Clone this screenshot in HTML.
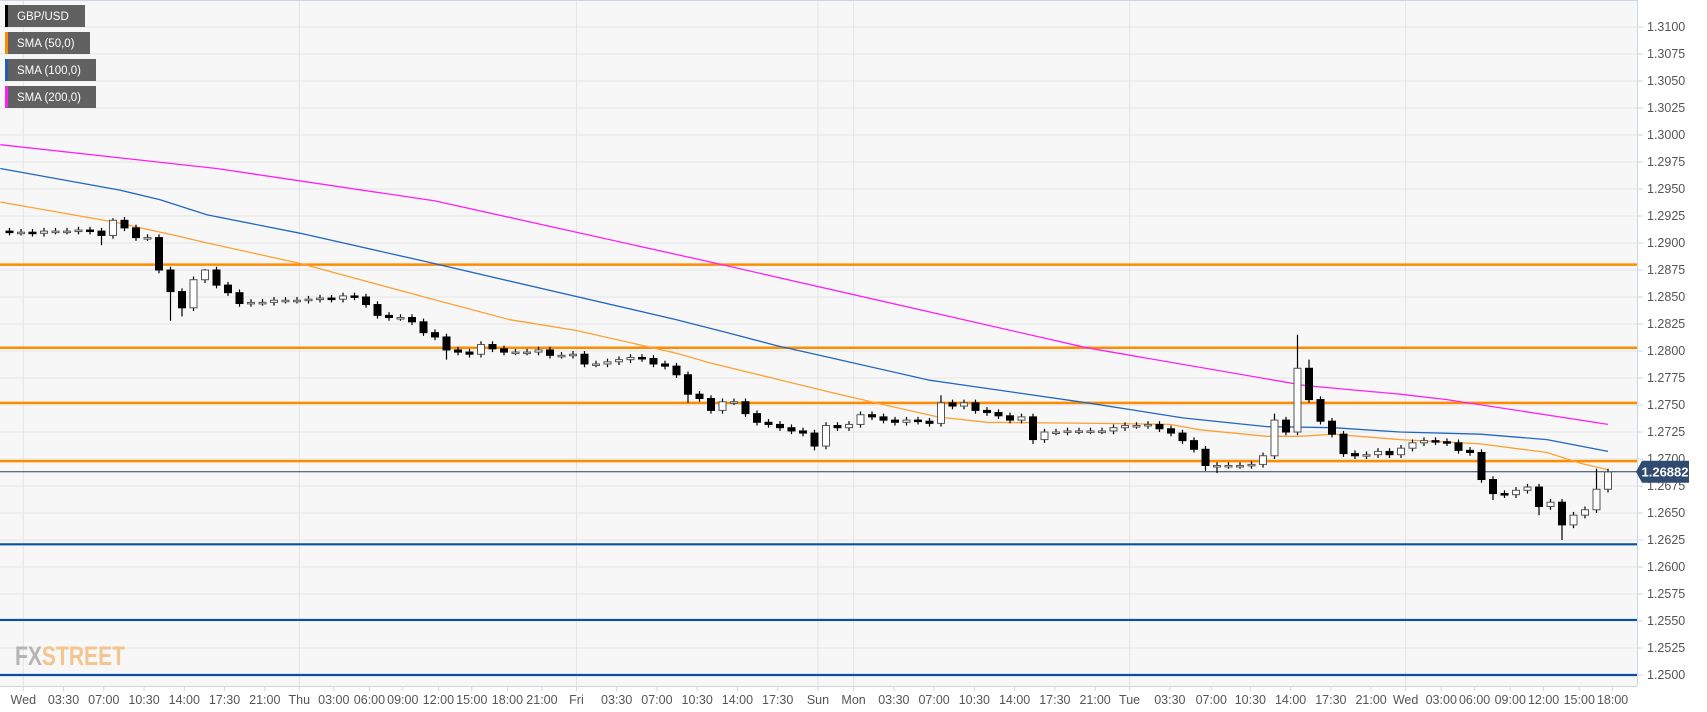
<!DOCTYPE html>
<html><head><meta charset="utf-8"><style>
body{margin:0;background:#fff;font-family:"Liberation Sans",sans-serif}
svg{display:block}
</style></head><body>
<svg id="c" width="1707" height="712" xmlns="http://www.w3.org/2000/svg">
<rect x="0" y="0" width="1637" height="686" fill="#f7f7f7"/>
<g id="grid"></g>
<g id="levels"></g>
<g id="smas"></g>
<g id="candles"></g>
<g id="axes"></g>
<text x="15" y="665" font-size="27" font-weight="bold" textLength="110" lengthAdjust="spacingAndGlyphs" font-family="Liberation Sans Narrow,Liberation Sans,sans-serif"><tspan fill="#b5b5b5">FX</tspan><tspan fill="#f5c48f">STREET</tspan></text>
<g id="legend"></g>
</svg>
<script>
const yTickLabels=["1.3100","1.3075","1.3050","1.3025","1.3000","1.2975","1.2950","1.2925","1.2900","1.2875","1.2850","1.2825","1.2800","1.2775","1.2750","1.2725","1.2700","1.2675","1.2650","1.2625","1.2600","1.2575","1.2550","1.2525","1.2500"];
const xTickLabels=["Wed","03:30","07:00","10:30","14:00","17:30","21:00","Thu","03:00","06:00","09:00","12:00","15:00","18:00","21:00","Fri","03:30","07:00","10:30","14:00","17:30","Sun","Mon","03:30","07:00","10:30","14:00","17:30","21:00","Tue","03:30","07:00","10:30","14:00","17:30","21:00","Wed","03:00","06:00","09:00","12:00","15:00","18:00"];
const xTickIdx=[1.2,4.7,8.2,11.7,15.2,18.7,22.2,25.2,28.2,31.3,34.2,37.3,40.2,43.3,46.3,49.3,52.8,56.3,59.8,63.3,66.8,70.3,73.4,76.9,80.4,83.9,87.4,90.9,94.4,97.4,100.9,104.5,107.9,111.4,114.9,118.4,121.4,124.5,127.4,130.5,133.4,136.5,139.4];
const dayIdx=[1.2,25.2,49.3,70.3,73.4,97.4,121.4];
const closes=[1.2910,1.2910,1.2909,1.2911,1.2911,1.2911,1.2912,1.2911,1.2907,1.2921,1.2914,1.2905,1.2905,1.2875,1.2855,1.2840,1.2866,1.2875,1.2861,1.2854,1.2844,1.2845,1.2845,1.2847,1.2847,1.2847,1.2848,1.2849,1.2848,1.2851,1.2850,1.2843,1.2833,1.2831,1.2831,1.2827,1.2817,1.2813,1.2801,1.2799,1.2797,1.2806,1.2802,1.2799,1.2799,1.2799,1.2801,1.2796,1.2796,1.2797,1.2788,1.2788,1.2790,1.2792,1.2794,1.2793,1.2788,1.2786,1.2778,1.2760,1.2756,1.2745,1.2753,1.2753,1.2742,1.2734,1.2732,1.2729,1.2726,1.2724,1.2712,1.2731,1.2729,1.2732,1.2741,1.2739,1.2736,1.2734,1.2736,1.2735,1.2733,1.2752,1.2749,1.2752,1.2745,1.2743,1.2740,1.2736,1.2739,1.2718,1.2725,1.2725,1.2726,1.2726,1.2726,1.2726,1.2729,1.2731,1.2731,1.2732,1.2728,1.2724,1.2717,1.2709,1.2694,1.2694,1.2694,1.2694,1.2695,1.2703,1.2736,1.2725,1.2784,1.2755,1.2735,1.2723,1.2705,1.2703,1.2704,1.2707,1.2704,1.2710,1.2715,1.2717,1.2716,1.2715,1.2708,1.2706,1.2681,1.2668,1.2667,1.2671,1.2674,1.2656,1.2660,1.2639,1.2648,1.2653,1.2672,1.2688];
const firstOpen=1.2911;
const wickDefault=0.0003;
const highOverride={9:1.2923,16:1.2869,17:1.2876,70:1.2727,81:1.2759,110:1.2742,112:1.2815,113:1.2792,138:1.2691,139:1.2691};
const lowOverride={8:1.2898,14:1.2828,15:1.2832,38:1.2792,59:1.2752,70:1.2708,89:1.2714,104:1.2689,105:1.2687,129:1.2662,135:1.2625,133:1.2648};
const sma50Idx=[-0.8,9.3,14.8,17.2,25.3,35.7,43.5,49.3,58,60.9,71.3,75.3,80.7,85,94.8,100.9,103.5,109.3,112.2,115.1,120.9,127.9,133.7,136.6,139];
const sma50Val=[1.2938,1.2919,1.2906,1.2900,1.2881,1.2851,1.2829,1.2819,1.2798,1.2789,1.2762,1.2752,1.2739,1.2734,1.2733,1.2732,1.2727,1.2721,1.2721,1.2723,1.2718,1.2714,1.2706,1.2696,1.2690];
const sma100Idx=[-0.8,9.6,13.1,17.2,25.3,35.7,58,62.4,66.7,71.3,80,93.7,102.1,109.3,115.1,120.9,127.9,133.7,139];
const sma100Val=[1.2969,1.2949,1.2940,1.2926,1.2909,1.2884,1.2829,1.2817,1.2805,1.2794,1.2773,1.2752,1.2738,1.2730,1.2729,1.2725,1.2723,1.2718,1.2707];
const sma200Idx=[-0.8,18,37,60.7,93.7,112.7,120.9,125,139];
const sma200Val=[1.2991,1.2969,1.2939,1.2883,1.2803,1.2768,1.2760,1.2755,1.2732];
const resistanceLevels=[1.2880,1.2803,1.2752,1.2698];
const supportLevels=[1.2621,1.2551,1.2500];
const lastPrice=1.26882;
const legendLabels=["GBP/USD","SMA (50,0)","SMA (100,0)","SMA (200,0)"];
const legendColors=["#000000","#ff8c00","#1f5fb4","#ff1ff4"];

const NS="http://www.w3.org/2000/svg";
const PW=1637;
function yS(p){return 27+(1.3100-p)*10800;}
function xS(i){return 9.5+11.5*i;}
function mk(tag,attrs,parent){const e=document.createElementNS(NS,tag);for(const k in attrs)e.setAttribute(k,attrs[k]);document.getElementById(parent).appendChild(e);return e;}

yTickLabels.forEach((t)=>{const y=yS(parseFloat(t));
 const l=mk('line',{x1:0,x2:PW,y1:y,y2:y,stroke:'#e4e4e4','stroke-width':1},'grid');
 
 
 const tk=mk('line',{x1:PW,x2:PW+6,y1:y,y2:y,stroke:'#ccd6eb'},'axes');
 
 
 const tx=mk('text',{x:PW+10,y:y+4,'font-size':12.5,fill:'#555'},'axes');tx.textContent=t;
 
 
});
dayIdx.forEach(i=>{const x=xS(i);
 const l=mk('line',{x1:x,x2:x,y1:0,y2:686,stroke:'#e4e4e4'},'grid');
 
 
});
xTickLabels.forEach((t,k)=>{const x=xS(xTickIdx[k]);
 const tk=mk('line',{x1:x,x2:x,y1:686,y2:691,stroke:'#ccd6eb'},'axes');
 
 
 const tx=mk('text',{x:x,y:704,'font-size':12.5,fill:'#555','text-anchor':'middle'},'axes');tx.textContent=t;
 
 
});
const ax=mk('line',{x1:PW+0.5,x2:PW+0.5,y1:0,y2:686,stroke:'#ccd6eb'},'axes');


const bx=mk('line',{x1:0,x2:PW,y1:686.5,y2:686.5,stroke:'#ccd6eb'},'axes');


const tb=mk('line',{x1:0,x2:PW,y1:0.5,y2:0.5,stroke:'#ccd6eb'},'axes');



resistanceLevels.forEach(p=>{const y=yS(p);
 const l=mk('line',{x1:0,x2:PW,y1:y,y2:y,stroke:'#ff8c00','stroke-width':2.5},'levels');
 
 
});
supportLevels.forEach(p=>{const y=yS(p);
 const l=mk('line',{x1:0,x2:PW,y1:y,y2:y,stroke:'#0b4ea2','stroke-width':2.2},'levels');
 
 
});
{const y=yS(lastPrice);
 const l=mk('line',{x1:0,x2:PW,y1:y,y2:y,stroke:'#2b3f5e','stroke-width':1},'levels');
 
 
 const tag=mk('path',{d:`M${PW-1} ${y} L${PW+5} ${y-11} H${PW+52} V${y+11} H${PW+5} Z`,fill:'#2f4b70'},'axes');
 
 
 const tx=mk('text',{x:PW+28,y:y+5,'font-size':13,'font-weight':'bold',fill:'#fff','text-anchor':'middle'},'axes');tx.textContent=lastPrice.toFixed(5);
 
 
}

function smaPath(idx,val,color,name){let d='';idx.forEach((i,k)=>{d+=(k?'L':'M')+xS(i).toFixed(1)+' '+yS(val[k]).toFixed(1);});
 const p=mk('path',{d:d,fill:'none',stroke:color,'stroke-width':1.3},'smas');
 
 }
smaPath(sma200Idx,sma200Val,'#ff1ff4','sma-200-line');
smaPath(sma100Idx,sma100Val,'#2166c0','sma-100-line');
smaPath(sma50Idx,sma50Val,'#ffa033','sma-50-line');

closes.forEach((c,i)=>{const o=i?closes[i-1]:firstOpen;
 const hi=(i in highOverride)?highOverride[i]:Math.max(o,c)+wickDefault;
 const lo=(i in lowOverride)?lowOverride[i]:Math.min(o,c)-wickDefault;
 const x=xS(i);
 const w=mk('line',{x1:x,x2:x,y1:yS(hi),y2:yS(lo),stroke:'#000','stroke-width':1.2},'candles');
 
 
 const top=yS(Math.max(o,c)),bot=yS(Math.min(o,c));
 const up=c>=o;
 const r=mk('rect',{x:x-3.5,y:top,width:7,height:Math.max(1.5,bot-top),fill:up?'#ffffff':'#000000',stroke:up?'#555':'#000','stroke-width':1},'candles');
 
 
});

const lw=[80,85,91,91];
legendLabels.forEach((t,k)=>{const y=5+27*k;
 const r=mk('rect',{x:5,y:y,width:lw[k],height:22,fill:'#616161'},'legend');
 
 
 const s=mk('rect',{x:5,y:y,width:3,height:22,fill:legendColors[k]},'legend');
 
 
 const tx=mk('text',{x:17,y:y+15,'font-size':11.5,fill:'#fff'},'legend');tx.textContent=t;
 
 
});
</script>
</body></html>
